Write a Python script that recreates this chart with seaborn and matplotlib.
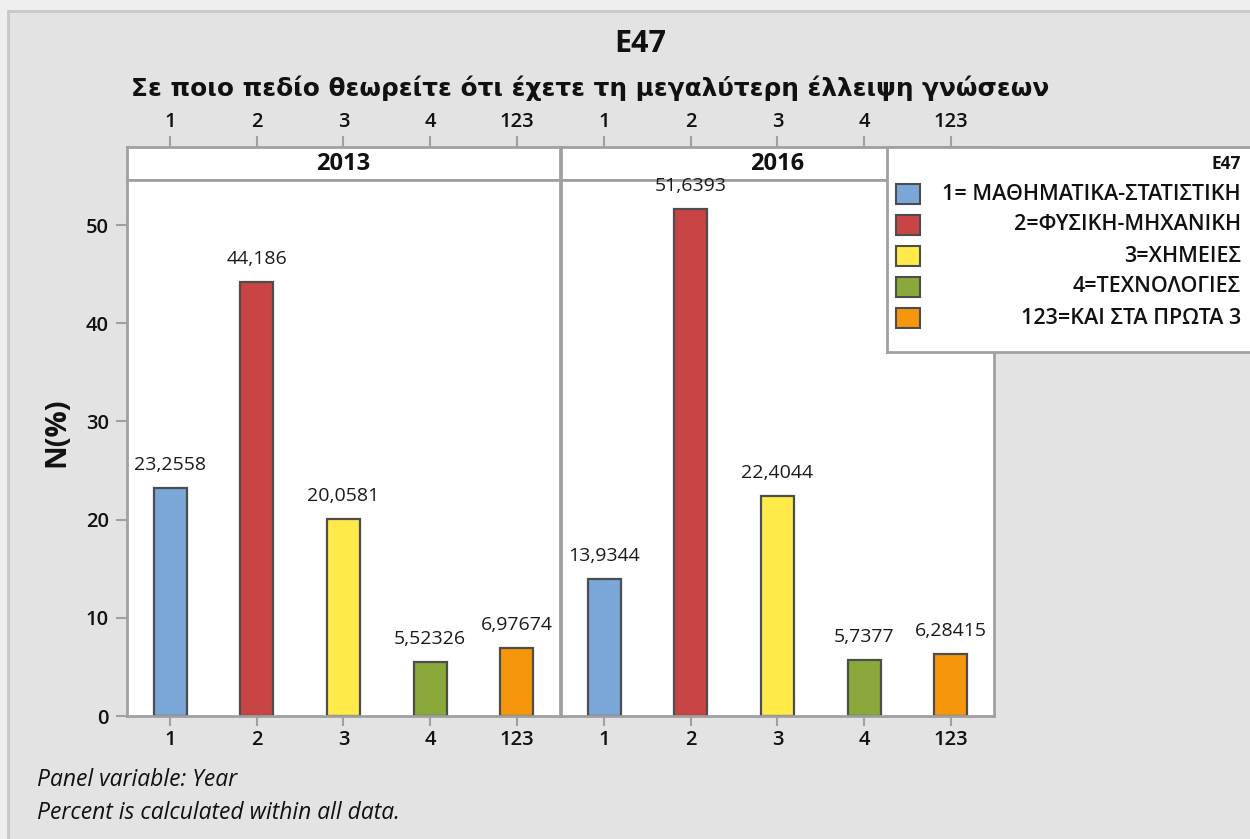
import matplotlib
matplotlib.use("Agg")
import matplotlib.pyplot as plt
from matplotlib.patches import Rectangle
import pandas as pd
import seaborn as sns

# data
categories = ["1", "2", "3", "4", "123"]
years = ["2013", "2016"]
pct_2013 = [23.2558, 44.186, 20.0581, 5.52326, 6.97674]
pct_2016 = [13.9344, 51.6393, 22.4044, 5.7377, 6.28415]
legend_labels = ["1= ΜΑΘΗΜΑΤΙΚΑ-ΣΤΑΤΙΣΤΙΚΗ", "2=ΦΥΣΙΚΗ-ΜΗΧΑΝΙΚΗ", "3=ΧΗΜΕΙΕΣ",
                 "4=ΤΕΧΝΟΛΟΓΙΕΣ", "123=ΚΑΙ ΣΤΑ ΠΡΩΤΑ 3"]
colors = ["#7ba6d8", "#c94545", "#ffea4a", "#8ba83a", "#f5960c"]
y_ticks = [0, 10, 20, 30, 40, 50]

df = pd.DataFrame({
    "Year": [years[0]] * 5 + [years[1]] * 5,
    "E47": categories * 2,
    "pct": pct_2013 + pct_2016,
})
palette = dict(zip(categories, colors))

sns.set_theme(style="white")
plt.rcParams["font.family"] = ["Open Sans", "DejaVu Sans"]

W, H = 1250, 839
fig = plt.figure(figsize=(12.5, 8.39), dpi=100, facecolor="#efefef")


def fx(px):
    return px / W


def fy(py):
    return 1 - py / H


# outer frame of the graph region
fig.patches.append(Rectangle((fx(8), -0.1), 1.2, fy(11) + 0.1, transform=fig.transFigure,
                             facecolor="#e3e3e3", edgecolor="#c8c8c8", linewidth=2, zorder=-1))

frame_col = "#a0a0a0"
txt_col = "#111111"
panel_lefts = [127, 561]
panel_w = 433
plot_top, plot_bot, strip_top = 180, 716, 147

for i, year in enumerate(years):
    left = panel_lefts[i]
    ax = fig.add_axes([fx(left), fy(plot_bot), panel_w / W, (plot_bot - plot_top) / H])
    ax.set_zorder(2)
    sub = df[df["Year"] == year]
    sns.barplot(data=sub, x="E47", y="pct", hue="E47", order=categories, hue_order=categories,
                palette=palette, dodge=False, width=0.38, legend=False,
                edgecolor="#4d4d4d", linewidth=1.6, saturation=1, ax=ax)
    for cont in ax.containers:
        ax.bar_label(cont, labels=[f"{v:g}".replace(".", ",") for v in cont.datavalues],
                     padding=10, fontsize=14, color="#1a1a1a", clip_on=False)
    ax.set_xlim(-0.5, 4.5)
    ax.set_ylim(0, 54.6)
    ax.set_facecolor("white")
    for s in ax.spines.values():
        s.set_color(frame_col)
        s.set_linewidth(2)
    ax.set_xlabel("")
    ax.set_ylabel("")
    ax.tick_params(axis="x", bottom=True, length=7, width=1.5, color=frame_col,
                   labelsize=14.5, labelcolor=txt_col, pad=3)
    for t in ax.get_xticklabels():
        t.set_fontweight("semibold")
    if i == 0:
        ax.set_yticks(y_ticks)
        ax.tick_params(axis="y", left=True, length=8, width=1.5, color=frame_col,
                       labelsize=14.5, labelcolor=txt_col, pad=5)
        for t in ax.get_yticklabels():
            t.set_fontweight("semibold")
    else:
        ax.set_yticks([])

    # panel strip with top tick labels
    sax = fig.add_axes([fx(left), fy(plot_top), panel_w / W, (plot_top - strip_top) / H])
    sax.set_zorder(1)
    sax.set_facecolor("white")
    sax.set_xlim(-0.5, 4.5)
    sax.set_ylim(0, 1)
    sax.set_yticks([])
    sax.set_xticks(range(len(categories)))
    sax.set_xticklabels(categories)
    sax.tick_params(axis="x", top=True, bottom=False, labeltop=True, labelbottom=False,
                    length=8, width=1.5, color=frame_col, labelsize=14.5,
                    labelcolor=txt_col, pad=3)
    for t in sax.get_xticklabels():
        t.set_fontweight("semibold")
    for s in sax.spines.values():
        s.set_color(frame_col)
        s.set_linewidth(2)
    sax.text(0.5, 0.5, year, transform=sax.transAxes, ha="center", va="center",
             fontsize=17, fontweight="bold", color=txt_col)

# legend box
lax = fig.add_axes([fx(887), fy(352), 0.4, (352 - 147) / H])
lax.set_zorder(3)
lax.set_xlim(887, 887 + 0.4 * W)
lax.set_ylim(352, 147)
lax.set_facecolor("white")
lax.set_xticks([])
lax.set_yticks([])
for s in lax.spines.values():
    s.set_color(frame_col)
    s.set_linewidth(2)
lax.text(1241, 164, "E47", ha="right", va="center", fontsize=12.5, fontweight="bold",
         color=txt_col)
for k, (lab, col) in enumerate(zip(legend_labels, colors)):
    yc = 194 + k * 31
    lax.add_patch(Rectangle((896, yc - 10), 24, 20, facecolor=col, edgecolor="#4d4d4d",
                            linewidth=1.5))
    lax.text(1241, yc, lab, ha="right", va="center", fontsize=15.5, fontweight="semibold",
             color=txt_col)

fig.text(fx(640), fy(44), "E47", ha="center", va="center", fontsize=22,
         fontweight="bold", color=txt_col)
fig.text(fx(590), fy(88), "Σε ποιο πεδίο θεωρείτε ότι έχετε τη μεγαλύτερη έλλειψη γνώσεων",
         ha="center", va="center", fontsize=17.8, fontweight="bold", color=txt_col,
         family=["DejaVu Sans"])
fig.text(fx(57), fy(432), "N(%)", ha="center", va="center", rotation=90, fontsize=21,
         fontweight="bold", color=txt_col)
fig.text(fx(37), fy(780), "Panel variable: Year", ha="left", va="center", fontsize=16.5,
         style="italic", color=txt_col)
fig.text(fx(37), fy(813), "Percent is calculated within all data.", ha="left", va="center",
         fontsize=16.5, style="italic", color=txt_col)

fig.savefig("out.png", dpi=100, facecolor=fig.get_facecolor())
